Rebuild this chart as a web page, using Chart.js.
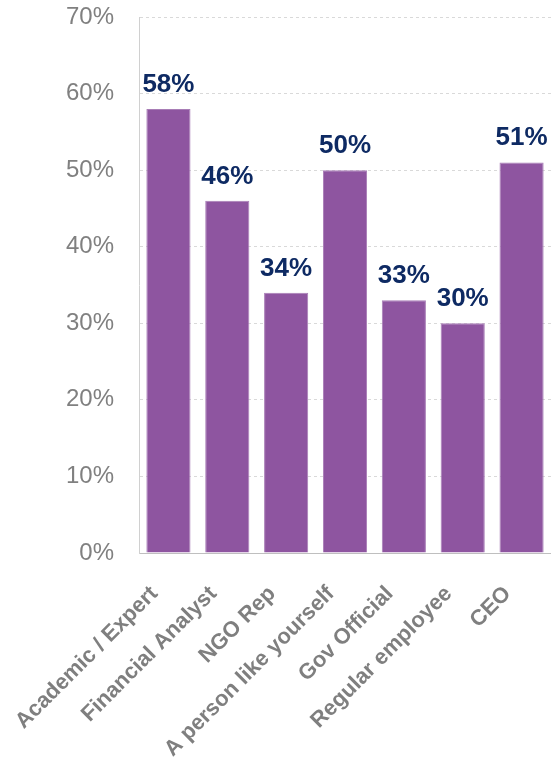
<!DOCTYPE html>
<html>
<head>
<meta charset="utf-8">
<script src="https://cdn.jsdelivr.net/npm/chart.js@4/dist/chart.umd.min.js"></script>
<style>
html,body{margin:0;padding:0;background:#fff;}
canvas{display:block;}
</style>
</head>
<body>
<canvas id="c" width="551" height="771"></canvas>
<script>
const categories = ["Academic / Expert","Financial Analyst","NGO Rep","A person like yourself","Gov Official","Regular employee","CEO"];
const values = [58, 46, 34, 50, 33, 30, 51];
const yTicks = [0, 10, 20, 30, 40, 50, 60, 70];

const valueLabels = {
  id: 'valueLabels',
  afterDatasetsDraw(chart) {
    const ctx = chart.ctx;
    const meta = chart.getDatasetMeta(0);
    ctx.save();
    ctx.font = 'bold 26px "Liberation Sans", Arial, sans-serif';
    ctx.fillStyle = '#0E2A63';
    ctx.textAlign = 'center';
    ctx.textBaseline = 'alphabetic';
    meta.data.forEach((bar, i) => {
      ctx.fillText(values[i] + '%', bar.x, bar.y - 17);
    });
    ctx.restore();
  }
};

new Chart(document.getElementById('c'), {
  type: 'bar',
  data: {
    labels: categories,
    datasets: [{
      data: values,
      backgroundColor: '#8E55A0',
      borderColor: '#A87DB6',
      borderWidth: 1,
      barPercentage: 0.75,
      categoryPercentage: 1.0
    }]
  },
  options: {
    responsive: false,
    animation: false,
    layout: { padding: { top: 17, right: 0, left: 0, bottom: 0 } },
    plugins: { legend: { display: false }, tooltip: { enabled: false } },
    scales: {
      x: {
        grid: { display: false, drawTicks: false },
        border: { display: true, color: '#BFBFBF', width: 1 },
        ticks: {
          autoSkip: false,
          maxRotation: 45,
          minRotation: 45,
          padding: 28,
          labelOffset: -14,
          color: '#7F7F7F',
          font: { family: '"Liberation Sans", Arial, sans-serif', size: 22, weight: 'bold' }
        },
        afterFit(scale) {
          scale.height = 218;
          scale.paddingLeft = 0; scale.paddingRight = 0;
          scale.paddingTop = 0; scale.paddingBottom = 0;
        }
      },
      y: {
        min: 0,
        max: 70,
        afterBuildTicks(scale) { scale.ticks = yTicks.map(v => ({ value: v })); },
        grid: {
          color: (c) => c.tick && c.tick.value === 0 ? 'rgba(0,0,0,0)' : '#D9D9D9',
          drawTicks: false,
          lineWidth: 1
        },
        border: { display: true, color: '#D0D0D0', width: 1, dash: [3, 3] },
        ticks: {
          padding: 25,
          color: '#808080',
          font: { family: '"Liberation Sans", Arial, sans-serif', size: 24 },
          callback: (v) => v + '%'
        },
        afterFit(scale) {
          scale.width = 139;
          scale.paddingLeft = 0; scale.paddingRight = 0;
          scale.paddingTop = 0; scale.paddingBottom = 0;
        }
      }
    }
  },
  plugins: [valueLabels]
});
</script>
</body>
</html>
